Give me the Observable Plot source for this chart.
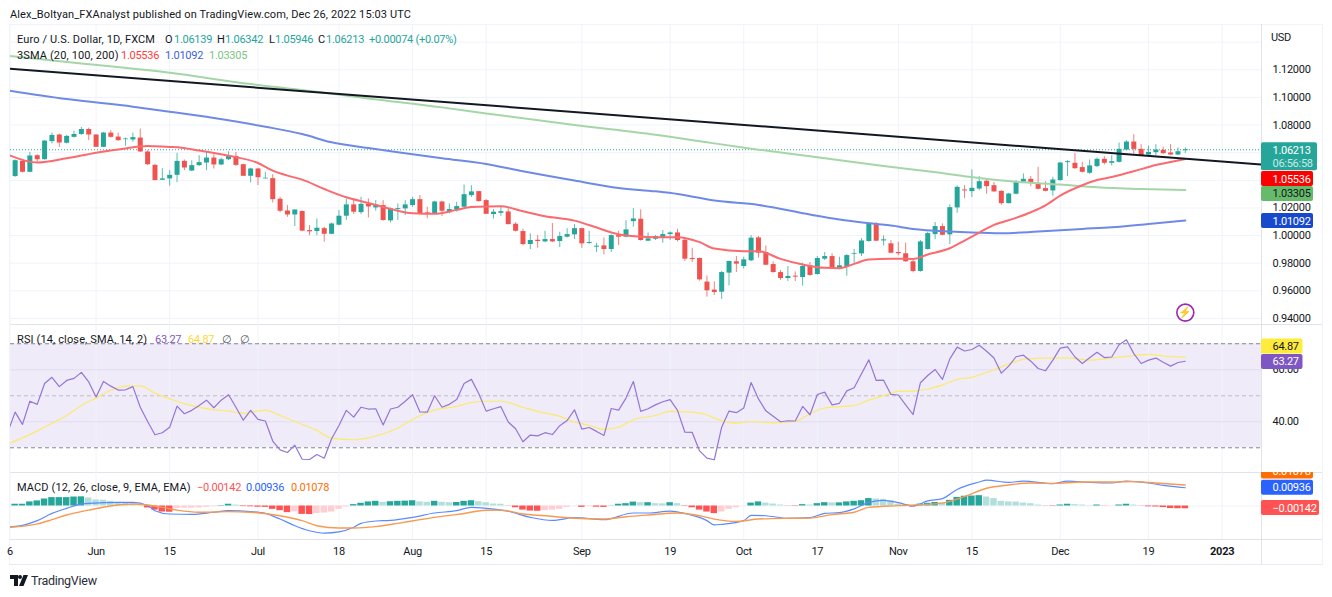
<!DOCTYPE html>
<html><head><meta charset="utf-8">
<script src="https://cdn.jsdelivr.net/npm/d3@7"></script>
<script src="https://cdn.jsdelivr.net/npm/@observablehq/plot@0.6"></script>
<style>
html,body{margin:0;padding:0;background:#fff;width:1332px;height:597px;overflow:hidden}
body{position:relative;font-family:Roboto,sans-serif;font-size:11px;letter-spacing:-.28px;color:#131722}
.a{position:absolute;white-space:nowrap;line-height:14px}
.w{letter-spacing:.13px}
.l{position:absolute;background:#e0e3eb}
.p{position:absolute;left:0}
svg text{font-family:Roboto,sans-serif;letter-spacing:-.28px}
</style></head><body>
<div id="root"></div>
<script>
// ---------- price data: bar number 0 is 1 June 2022 ----------
const firstBar = -11;
const opens = [1.0427,1.0537,1.0458,1.0578,1.0549,1.0680,1.0728,1.0668,1.0711,1.0732,
1.0768,1.0728,1.0639,1.0742,1.0713,1.0694,1.0692,1.0706,1.0605,1.0508,
1.0400,1.0410,1.0436,1.0537,1.0467,1.0506,1.0525,1.0561,1.0511,1.0549,
1.0573,1.0513,1.0429,1.0482,1.0410,1.0412,1.0263,1.0178,1.0149,1.0174,
1.0036,1.0029,1.0050,1.0009,1.0075,1.0140,1.0222,1.0166,1.0226,1.0200,
1.0217,1.0106,1.0188,1.0193,1.0217,1.0260,1.0164,1.0157,1.0243,1.0166,
1.0186,1.0205,1.0289,1.0318,1.0253,1.0152,1.0161,1.0171,1.0082,1.0029,
.9935,.9966,.9954,.9971,.9957,.9988,1.0005,1.0050,.9942,.9916,
.9925,.9899,1.0000,.9988,1.0101,1.0118,.9959,.9973,.9983,1.0007,
1.0019,.9966,.9834,.9834,.9663,.9605,.9590,.9728,.9810,.9776,
.9817,.9983,.9877,.9790,.9732,.9689,.9706,.9696,.9781,.9718,
.9829,.9848,.9764,.9773,.9865,.9867,.9957,1.0084,.9961,.9940,
.9877,.9868,.9810,.9740,.9899,1.0007,1.0065,1.0005,1.0200,1.0330,
1.0318,1.0337,1.0393,1.0361,1.0320,1.0231,1.0299,1.0386,1.0407,1.0373,
1.0340,1.0323,1.0398,1.0528,1.0523,1.0492,1.0451,1.0499,1.0552,1.0523,
1.0530,1.0619,1.0677,1.0624,1.0583,1.0600,1.0617,1.0598,1.0583,1.06139];
const highs = [1.0547,1.0547,1.0602,1.0585,1.0687,1.0742,1.0735,1.0725,1.0756,1.0783,
1.0778,1.0730,1.0747,1.0759,1.0742,1.0706,1.0742,1.0771,1.0614,1.0516,
1.0484,1.0470,1.0595,1.0547,1.0542,1.0578,1.0602,1.0585,1.0561,1.0607,
1.0602,1.0516,1.0487,1.0487,1.0458,1.0441,1.0277,1.0217,1.0186,1.0178,
1.0072,1.0120,1.0060,1.0091,1.0181,1.0265,1.0265,1.0277,1.0265,1.0253,
1.0253,1.0200,1.0229,1.0253,1.0277,1.0289,1.0205,1.0248,1.0248,1.0229,
1.0241,1.0366,1.0361,1.0320,1.0260,1.0188,1.0205,1.0193,1.0094,1.0046,
1.0012,1.0000,1.0031,1.0087,1.0024,1.0050,1.0079,1.0053,1.0031,.9945,
.9983,1.0005,1.0031,1.0108,1.0195,1.0186,1.0019,1.0000,1.0036,1.0026,
1.0046,.9971,.9908,.9838,.9706,.9665,.9740,.9814,.9848,.9843,
1.0000,.9993,.9925,.9810,.9747,.9776,.9737,.9800,.9805,.9848,
.9877,.9868,.9843,.9862,.9899,.9978,1.0089,1.0094,.9998,.9964,
.9952,.9945,.9824,.9964,1.0024,1.0094,1.0084,1.0222,1.0359,1.0361,
1.0475,1.0427,1.0402,1.0385,1.0325,1.0306,1.0398,1.0446,1.0427,1.0494,
1.0390,1.0422,1.0530,1.0542,1.0595,1.0530,1.0547,1.0561,1.0571,1.0578,
1.0670,1.0687,1.0730,1.0658,1.0648,1.0658,1.0639,1.0658,1.0634,1.06342];
const lows = [1.0422,1.0453,1.0455,1.0520,1.0547,1.0663,1.0639,1.0663,1.0706,1.0725,
1.0687,1.0637,1.0637,1.0706,1.0682,1.0646,1.0675,1.0602,1.0506,1.0396,
1.0398,1.0357,1.0383,1.0470,1.0463,1.0501,1.0470,1.0482,1.0506,1.0542,
1.0501,1.0427,1.0381,1.0362,1.0410,1.0236,1.0164,1.0132,1.0065,1.0027,
.9999,.9999,.9952,1.0007,1.0070,1.0109,1.0152,1.0152,1.0128,1.0176,
1.0104,1.0092,1.0109,1.0145,1.0205,1.0152,1.0121,1.0152,1.0137,1.0157,
1.0169,1.0200,1.0277,1.0241,1.0152,1.0120,1.0140,1.0077,1.0026,.9925,
.9899,.9908,.9949,.9949,.9913,.9983,.9971,.9908,.9937,.9877,
.9860,.9877,.9928,.9983,1.0060,.9959,.9956,.9964,.9945,.9964,
.9954,.9812,.9805,.9670,.9554,.9566,.9537,.9636,.9732,.9757,
.9810,.9836,.9783,.9728,.9675,.9667,.9667,.9634,.9706,.9713,
.9819,.9757,.9752,.9706,.9800,.9848,.9952,.9957,.9925,.9868,
.9853,.9807,.9730,.9735,.9894,.9971,.9998,.9935,1.0161,1.0267,
1.0275,1.0325,1.0299,1.0313,1.0219,1.0229,1.0294,1.0381,1.0354,1.0330,
1.0316,1.0284,1.0393,1.0426,1.0480,1.0453,1.0443,1.0494,1.0511,1.0504,
1.0525,1.0614,1.0590,1.0573,1.0578,1.0578,1.0588,1.0578,1.0578,1.05946];
const closes = [1.0542,1.0458,1.0576,1.0549,1.0684,1.0725,1.0670,1.0718,1.0732,1.0768,
1.0728,1.0639,1.0742,1.0711,1.0687,1.0699,1.0709,1.0605,1.0513,1.0398,
1.0410,1.0436,1.0537,1.0489,1.0506,1.0528,1.0561,1.0511,1.0549,1.0576,
1.0508,1.0429,1.0482,1.0419,1.0415,1.0260,1.0176,1.0149,1.0185,1.0032,
1.0027,1.0053,1.0009,1.0084,1.0140,1.0222,1.0169,1.0226,1.0207,1.0222,
1.0109,1.0193,1.0195,1.0222,1.0260,1.0157,1.0154,1.0243,1.0176,1.0188,
1.0210,1.0296,1.0316,1.0246,1.0154,1.0169,1.0173,1.0079,1.0031,.9935,
.9964,.9957,.9971,.9954,.9993,1.0007,1.0050,.9940,.9949,.9923,
.9899,1.0000,.9988,1.0041,1.0120,.9964,.9976,.9993,1.0007,1.0019,
.9964,.9829,.9826,.9679,.9600,.9588,.9732,.9812,.9793,.9824,
.9981,.9872,.9785,.9732,.9689,.9704,.9699,.9776,.9711,.9834,
.9848,.9761,.9781,.9855,.9870,.9961,1.0080,.9959,.9969,.9872,
.9868,.9810,.9740,.9954,1.0014,1.0065,1.0002,1.0202,1.0349,1.0323,
1.0342,1.0390,1.0354,1.0316,1.0231,1.0301,1.0390,1.0407,1.0378,1.0335,
1.0320,1.0402,1.0525,1.0535,1.0484,1.0458,1.0504,1.0552,1.0523,1.0535,
1.0624,1.0677,1.0624,1.0578,1.0602,1.0619,1.0593,1.0583,1.0607,1.06213];

const sma20Bars = [-12,-8,-4,0,4,7,10,11,14,18,22,24,26,28,31,34,37,40,43,46,49,51,55,58,61,65,68,70,72,76,79,82,84,88,90,93,96,99,101,103,105,108,111,113,116,118,120,122,125,127,129,131,134,136,138,141,144,146,148];
const sma20 = [1.0586,1.0528,1.0559,1.0600,1.0631,1.0648,1.0641,1.0639,1.0615,1.0578,1.0525,1.0470,1.0434,1.0405,1.0337,1.0277,1.0236,1.0193,1.0161,1.0157,1.0186,1.0207,1.0212,1.0176,1.0140,1.0108,1.0058,1.0022,1.0000,.9988,.9988,.9952,.9906,.9887,.9887,.9831,.9790,.9766,.9764,.9795,.9826,.9832,.9831,.9863,.9908,.9964,1.0022,1.0077,1.0128,1.0169,1.0219,1.0289,1.0364,1.0402,1.0424,1.0465,1.0511,1.0533,1.05536];
const sma100Bars = [-12,-4,5,10,16,23,28,32,37,41,47,53,58,65,71,76,79,84,90,97,101,106,108,111,116,119,123,128,134,138,143,148];
const sma100 = [1.1051,1.0988,1.0933,1.0897,1.0851,1.0788,1.0735,1.0675,1.0634,1.0603,1.0559,1.0518,1.0465,1.0398,1.0345,1.0320,1.0301,1.0253,1.0222,1.0152,1.0116,1.0084,1.0072,1.0048,1.0029,1.0022,1.0017,1.0029,1.0048,1.0060,1.0084,1.01092];
const sma200Bars = [-12,-2,10,21,30,37,47,53,65,76,83,90,97,107,113,120,125,131,136,142,148];
const sma200 = [1.1301,1.1246,1.1178,1.1097,1.1041,1.0993,1.0928,1.0884,1.0800,1.0730,1.0675,1.0622,1.0574,1.0504,1.0465,1.0417,1.0390,1.0369,1.0349,1.0337,1.03305];
const trendBars = [-12,159];
const trend = [1.1209,1.0511];
const lastClose = 1.06213;

// ---------- RSI: first value is bar -12 ----------
const rsi = [36.0,43.7,39.0,47.9,46.7,54.7,57.1,53.5,55.9,56.7,
59.0,55.3,49.5,55.5,53.7,52.2,52.3,53.5,45.6,40.1,
35.0,35.8,37.9,46.0,43.1,44.4,46.3,48.3,45.4,48.3,
50.4,45.6,40.6,44.4,40.9,40.3,32.6,29.2,28.2,31.0,
25.6,25.5,27.4,26.0,33.5,38.6,44.4,41.8,45.6,44.9,
45.0,38.8,44.9,45.6,47.9,50.4,43.8,43.7,50.0,45.6,46.7,
48.6,54.7,56.3,50.8,44.1,45.0,45.8,39.9,37.3,32.3,
34.9,34.6,35.8,35.1,38.5,40.5,44.6,37.2,37.8,36.3,
34.7,45.1,44.5,49.1,55.5,44.0,45.0,46.5,47.7,48.5,
44.4,36.0,35.9,28.8,26.0,25.4,37.9,44.1,43.5,45.3,
55.1,48.8,44.2,42.1,40.0,40.4,40.3,45.9,42.7,50.5,
51.4,46.5,47.1,51.9,53.1,58.5,63.8,55.9,56.0,50.5,
50.3,46.5,42.8,55.0,57.8,60.1,56.3,64.2,68.7,67.2,
67.8,69.4,67.1,64.5,58.7,61.4,65.0,65.6,63.3,60.5,
59.6,63.7,68.3,68.8,64.9,62.4,64.6,66.7,64.7,64.9,
69.6,71.5,66.2,62.4,63.7,64.5,62.9,61.4,62.8,63.27];
const rsiMaBars = [-12,-10,-8,-6,-4,-2,0,2,4,6,8,11,13,16,18,20,23,25,27,30,32,35,37,39,41,43,46,49,51,53,55,58,60,63,65,67,69,71,73,76,78,81,83,84,87,89,92,95,97,99,103,105,108,109,111,113,115,117,119,122,125,126,129,132,135,138,141,143,146,148];
const rsiMa = [31.5,33.8,36.5,39.4,42.4,46.3,49.1,52.1,53.7,53.8,51.0,47.9,46.2,44.6,44.1,43.3,44.5,42.4,40.1,36.7,33.7,33.1,33.8,35.4,37.6,40.9,44.6,45.9,47.4,47.9,47.9,45.6,44.0,42.1,39.9,38.6,37.1,37.9,40.8,42.4,44.0,43.7,42.7,41.4,39.5,40.1,39.6,40.1,43.1,45.3,46.3,48.3,50.9,51.7,51.8,52.6,54.2,56.3,57.1,60.0,63.2,64.0,64.5,64.6,63.7,64.6,65.4,65.9,65.0,64.87];

// ---------- MACD: histogram first value is bar -11 ----------
const hist = [.0009,.0009,.0021,.0026,.0036,.0043,.0043,.0043,.0046,.0047,
.0041,.0031,.0030,.0024,.0019,.0015,.0010,.0003,-.0010,-.0021,
-.0031,-.0032,-.0012,-.0011,-.0011,-.0010,-.0007,-.0003,.0002,.0009,
.0005,-.0003,-.0004,-.0006,-.0007,-.0017,-.0024,-.0034,-.0030,-.0043,
-.0044,-.0039,-.0036,-.0031,-.0017,-.0005,.0007,.0014,.0021,.0024,
.0019,.0022,.0024,.0025,.0027,.0021,.0019,.0024,.0019,.0017,
.0018,.0024,.0027,.0022,.0017,.0010,.0009,-.0001,-.0009,-.0021,
-.0026,-.0027,-.0024,-.0021,-.0017,-.0007,-.0001,-.0007,-.0003,-.0006,
-.0007,.0001,.0009,.0012,.0020,.0017,.0017,.0012,.0011,.0017,
.0012,-.0002,-.0009,-.0021,-.0031,-.0039,-.0031,-.0017,-.0009,-.0001,
.0015,.0021,.0015,.0010,.0005,-.0001,-.0002,.0007,.0005,.0012,
.0017,.0016,.0016,.0021,.0024,.0027,.0038,.0036,.0034,.0027,
.0009,.0007,-.0005,.0010,.0014,.0018,.0016,.0029,.0044,.0050,
.0051,.0053,.0046,.0038,.0024,.0021,.0020,.0015,.0012,.0005,
-.0001,-.0002,.0005,.0009,.0007,.0005,.0002,.0005,-.0001,-.0001,
.0005,.0009,.0005,-.0001,-.0004,-.0005,-.0008,-.0013,-.0014,-.00142];
const macdBars = [-12,-10,-8,-6,-4,-2,1,3,5,7,8,10,13,16,18,21,23,25,27,29,31,33,35,36,38,40,43,46,49,51,53,56,59,62,65,69,73,75,78,80,83,84,85,88,89,91,94,97,99,101,103,105,107,109,111,113,115,117,120,121,124,126,130,132,135,138,140,143,145,148];
const macd = [-.0108,-.0099,-.0075,-.0038,-.0012,.0010,.0017,.0019,.0019,.0002,-.0024,-.0041,-.0043,-.0032,-.0024,-.0029,-.0038,-.0067,-.0101,-.0127,-.0139,-.0133,-.0109,-.0089,-.0077,-.0074,-.0058,-.0036,-.0024,-.0007,-.0012,-.0027,-.0058,-.0074,-.0060,-.0070,-.0036,-.0036,-.0026,-.0038,-.0075,-.0097,-.0094,-.0075,-.0048,-.0050,-.0063,-.0060,-.0038,-.0034,-.0015,.0019,.0029,.0017,0,.0026,.0038,.0085,.0123,.0133,.0121,.0128,.0115,.0128,.0121,.0118,.0128,.0118,.0106,.00936];
const signalBars = [-12,-8,-6,-4,-1,2,5,7,9,11,14,18,21,25,28,30,33,35,38,41,44,47,49,53,55,58,61,64,69,72,75,79,82,84,87,90,94,97,100,103,105,109,112,115,118,121,124,127,130,134,138,141,144,148];
const signal = [-.0110,-.0092,-.0070,-.0046,-.0021,0,.0010,.0005,-.0007,-.0021,-.0032,-.0029,-.0032,-.0050,-.0075,-.0101,-.0113,-.0113,-.0106,-.0089,-.0070,-.0053,-.0044,-.0022,-.0021,-.0041,-.0050,-.0060,-.0067,-.0055,-.0046,-.0036,-.0050,-.0067,-.0079,-.0067,-.0063,-.0062,-.0044,-.0032,-.0007,.0002,.0007,.0015,.0048,.0091,.0108,.0118,.0116,.0123,.0123,.0125,.0118,.01078];

// ---------- axes ----------
const xTickBars = [-11.7,0,10,22,33,43,53,66,78,88,98,109,119,131,143];
const xTickLabels = ["6","Jun","15","Jul","18","Aug","15","Sep","19","Oct","17","Nov","15","Dec","19"];
const yearBar = 153, yearLabel = "2023";
const priceGrid = [.94,.96,.98,1,1.02,1.04,1.06,1.08,1.1,1.12,1.14];
const priceLabels = [.94,.96,.98,1,1.02,1.08,1.1,1.12];
const rsiLabels = [40,60];
const rsiLevels = [70,50,30];

// ---------- layout ----------
const W = 1332, ML = 10, MR = 71;
const xDom = [-11.63,158.35];
const GRID = "#f0f3fa", GREEN = "#26a69a", RED = "#ef5350";
const base = {width:W, marginLeft:ML, marginRight:MR, marginTop:0, style:{background:"transparent",fontSize:"11px",fontFamily:"Roboto,sans-serif",color:"#131722",overflow:"hidden"}};
const bars = opens.map((o,k)=>({bar:firstBar+k,o,h:highs[k],l:lows[k],c:closes[k]}));
const histRows = hist.map((v,k)=>({bar:firstBar+k,v,prev:k?hist[k-1]:0}));
const histColor = d => d.v>=0 ? (d.v>=d.prev?"#26a69a":"#b2dfdb") : (d.v<d.prev?"#ff5252":"#ffcdd2");
const gridX = () => Plot.gridX(xTickBars.concat(yearBar),{stroke:GRID,strokeOpacity:1});

function tag(t){
  const out=[Plot.rect([t],{x1:xDom[1],x2:xDom[1],y1:t.v,y2:t.v,insetTop:-t.h,insetBottom:-t.h,insetRight:-t.w,dy:t.dy,fill:t.fill,rx:2})];
  out.push(Plot.text([t],{x:xDom[1],y:t.v,text:d=>d.label,dx:11,dy:t.dy+(t.ty||0),textAnchor:"start",fill:t.ink||"#fff",fontSize:11}));
  if(t.sub) out.push(Plot.text([t],{x:xDom[1],y:t.v,text:d=>d.sub,dx:11,dy:t.dy+7,textAnchor:"start",fill:"#c8ebe6",fontSize:11}));
  return out;
}

const pricePlot = Plot.plot({...base,height:300,marginBottom:0,
  x:{domain:xDom,axis:null},
  y:{domain:[.9356,1.1528],axis:null},
  marks:[
    gridX(),
    Plot.gridY(priceGrid,{stroke:GRID,strokeOpacity:1}),
    Plot.axisY(priceLabels,{anchor:"right",tickSize:0,tickPadding:11,tickFormat:d3.format(".5f"),label:null,fill:"#131722",fontSize:11}),
    Plot.ruleY([lastClose],{stroke:GREEN,strokeDasharray:"1 2",strokeWidth:1}),
    Plot.ruleX(bars,{x:"bar",y1:"l",y2:"h",stroke:d=>d.c>=d.o?GREEN:RED,strokeWidth:1,strokeOpacity:.75}),
    Plot.ruleX(bars,{x:"bar",y1:"o",y2:"c",stroke:d=>d.c>=d.o?GREEN:RED,strokeWidth:5}),
    Plot.line(sma200,{x:sma200Bars,y:d=>d,stroke:"#a5d6a7",strokeWidth:2,curve:"monotone-x",clip:true}),
    Plot.line(sma100,{x:sma100Bars,y:d=>d,stroke:"#6f8ae6",strokeWidth:2,curve:"monotone-x",clip:true}),
    Plot.line(sma20,{x:sma20Bars,y:d=>d,stroke:"#fb6a6f",strokeWidth:2,curve:"monotone-x",clip:true}),
    Plot.line(trend,{x:trendBars,y:d=>d,stroke:"#131722",strokeWidth:2,clip:true}),
    Plot.dot([148],{x:d=>d,y:[.9442],r:8.5,stroke:"#9c27b0",strokeWidth:1.6,fill:"#fff"}),
    Plot.text([148],{x:d=>d,y:[.9442],text:()=>"⚡",fill:"#9c27b0",fontSize:11,fontFamily:"DejaVu Sans"}),
    ...tag({v:1.06213,label:"1.06213",sub:"06:56:58",fill:"#26a69a",h:14,w:56,dy:7,ty:-6}),
    ...tag({v:1.05536,label:"1.05536",fill:"#ff0000",h:7.5,w:52,dy:20}),
    ...tag({v:1.03305,label:"1.03305",fill:"#66bb6a",ink:"#131722",h:7.5,w:52,dy:4}),
    ...tag({v:1.01092,label:"1.01092",fill:"#1848cc",h:7.5,w:52,dy:.6})
  ]});

const rsiPlot = Plot.plot({...base,height:148,marginBottom:0,
  x:{domain:xDom,axis:null},
  y:{domain:[20.5,77.4],axis:null},
  marks:[
    Plot.rect([0],{x1:xDom[0],x2:xDom[1],y1:30,y2:70,fill:"#7e57c2",fillOpacity:.12}),
    gridX(),
    Plot.gridY(rsiLabels,{stroke:"#ded9ec",strokeOpacity:.7}),
    Plot.axisY(rsiLabels,{anchor:"right",tickSize:0,tickPadding:11,tickFormat:d3.format(".2f"),label:null,fill:"#131722",fontSize:11}),
    Plot.ruleY(rsiLevels,{stroke:"#787b86",strokeOpacity:d=>d===50?.4:.9,strokeDasharray:"4 3",strokeWidth:1}),
    Plot.line(rsiMa,{x:rsiMaBars,y:d=>d,stroke:"#fdea6a",strokeWidth:1.2,curve:"monotone-x",clip:true}),
    Plot.line(rsi,{x:(d,k)=>k-12,y:d=>d,stroke:"#9575d6",strokeWidth:1.2,clip:true}),
    ...tag({v:64.87,label:"64.87",fill:"#ffeb3b",ink:"#131722",h:7.5,w:41.5,dy:-10.6}),
    ...tag({v:63.27,label:"63.27",fill:"#7e57c2",h:7.5,w:41.5,dy:.7})
  ]});

const macdPlot = Plot.plot({...base,height:92,marginBottom:25,
  x:{domain:xDom},
  y:{domain:[-.01718,.01718],axis:null},
  marks:[
    gridX(),
    Plot.gridY([0],{stroke:GRID,strokeOpacity:1}),
    Plot.rectY(histRows,{x1:d=>d.bar-.44,x2:d=>d.bar+.44,y1:0,y2:"v",fill:histColor}),
    Plot.line(macd,{x:macdBars,y:d=>d,stroke:"#5b8aff",strokeWidth:1.2,curve:"monotone-x",clip:true}),
    Plot.line(signal,{x:signalBars,y:d=>d,stroke:"#f89a50",strokeWidth:1.4,curve:"monotone-x",clip:true}),
    Plot.axisX(xTickBars,{anchor:"bottom",tickSize:0,tickPadding:8,label:null,tickFormat:d=>xTickLabels[xTickBars.indexOf(d)],fill:"#131722",fontSize:11}),
    Plot.axisX([yearBar],{anchor:"bottom",tickSize:0,tickPadding:8,label:null,tickFormat:()=>yearLabel,fill:"#131722",fontSize:11,fontWeight:"bold"}),
    ...tag({v:.01078,label:"0.01078",fill:"#ff6d00",h:7.5,w:52,dy:-13.5}),
    ...tag({v:.00936,label:"0.00936",fill:"#2962ff",h:7.5,w:52,dy:0}),
    ...tag({v:-.00142,label:"−0.00142",fill:"#ff5252",h:7.5,w:58,dy:-.8})
  ]});

// ---------- page chrome ----------
const root = document.getElementById("root");
function line(x,y,w,h,c){const d=document.createElement("div");d.className="l";d.style.cssText=`left:${x}px;top:${y}px;width:${w}px;height:${h}px`+(c?`;background:${c}`:"");root.append(d);}
line(9,24,1314,1,GRID); line(9,24,1,541,GRID); line(1322,24,1,541,GRID);
line(10,324,1312,1); line(10,472,1312,1); line(10,539,1312,1); line(9,564,1314,1,"#e8ebf3"); line(1261,24,1,541);
[[pricePlot,24],[rsiPlot,324],[macdPlot,472]].forEach(([s,t])=>{s.classList.add("p");s.style.top=t+"px";root.append(s);});
function legend(y,parts){parts.forEach(([x,txt,c,w])=>{const d=document.createElement("div");d.className="a"+(w?" w":"");d.style.left=x+"px";d.style.top=(y-6)+"px";if(c)d.style.color=c;d.textContent=txt;root.append(d);});}
legend(14,[[10,"Alex_Boltyan_FXAnalyst published on TradingView.com, Dec 26, 2022 15:03 UTC",null,1]]);
const T="#26a69a";
legend(39,[[17,"Euro / U.S. Dollar, 1D, FXCM",null,1],[165,"O"],[174,"1.06139",T],[217,"H"],[225,"1.06342",T],[269,"L"],[275,"1.05946",T],[318,"C"],[326,"1.06213",T],[369,"+0.00074 (+0.07%)",T]]);
legend(55,[[17,"3SMA (20, 100, 200)",null,1],[121,"1.05536","#ff3b3b"],[165,"1.01092","#3d63d9"],[209,"1.03305","#7cc47f"]]);
legend(37,[[1271,"USD"]]);
legend(339,[[17,"RSI (14, close, SMA, 14, 2)",null,1],[155,"63.27","#7e57c2"],[188,"64.87","#fdd835"],[222,"∅","#50535e"],[240,"∅","#50535e"]]);
legend(487,[[17,"MACD (12, 26, close, 9, EMA, EMA)",null,1],[197,"−0.00142","#ff5252"],[246,"0.00936","#2962ff"],[291,"0.01078","#ff6d00"]]);
const logo=document.createElement("div");logo.className="a";logo.style.cssText="left:10px;top:575px;width:18px;height:12px";
logo.innerHTML='<svg width="18" height="11" viewBox="0 0 36 22"><path fill="#131722" d="M0 0h16v22H8V8H0zM20 0a4 4 0 1 1 0 8 4 4 0 0 1 0-8zM27 0h9l-9 22h-9z"/></svg>';
root.append(logo);
const tv=document.createElement("div");tv.className="a";tv.style.cssText="left:31px;top:574px;font-size:12.5px;color:#2a2e39";tv.textContent="TradingView";root.append(tv);
</script></body></html>
